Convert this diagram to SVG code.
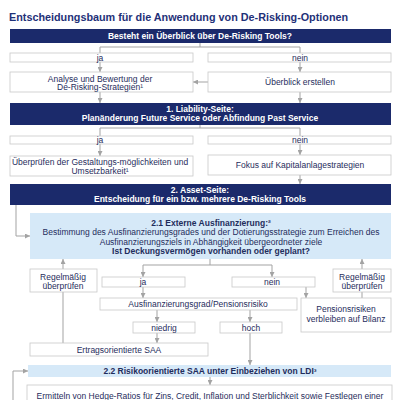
<svg xmlns="http://www.w3.org/2000/svg" width="400" height="400" viewBox="0 0 400 400">
<style>
text{font-family:"Liberation Sans",Arial,sans-serif;font-size:8.5px;fill:#1f2d5c;text-anchor:middle}
.title{font-size:10.8px;font-weight:bold;fill:#1f3178;text-anchor:start}
.bar{fill:#1b2a6b}
.bt{fill:#ffffff;font-weight:bold}
.box{fill:#ffffff;stroke:#c8c8c8;stroke-width:0.8}
.lb{fill:#d6e9f8}
.b{font-weight:bold}
.c{fill:none;stroke:#a3a3a3;stroke-width:1}
</style>
<defs>
<marker id="ah" viewBox="0 0 6 6" refX="6" refY="3" markerWidth="5" markerHeight="5" markerUnits="userSpaceOnUse" orient="auto">
<path d="M0,0 L6,3 L0,6 z" fill="#a3a3a3"/>
</marker>
</defs>
<rect width="400" height="400" fill="#ffffff"/>
<text class="title" x="9" y="21">Entscheidungsbaum für die Anwendung von De-Risking-Optionen</text>

<g id="connectors">
<path class="c" d="M200,43 V47 M100,53 V47 H300 V53"/>
<path class="c" d="M100,62 V72" marker-end="url(#ah)"/>
<path class="c" d="M300,62 V72" marker-end="url(#ah)"/>
<path class="c" d="M208,82 H193" marker-end="url(#ah)"/>
<path class="c" d="M100,92 V103" marker-end="url(#ah)"/>
<path class="c" d="M300,92 V103" marker-end="url(#ah)"/>
<path class="c" d="M200,125 V128 M100,136 V128 H300 V136"/>
<path class="c" d="M100,144 V156" marker-end="url(#ah)"/>
<path class="c" d="M300,144 V155" marker-end="url(#ah)"/>
<path class="c" d="M300,175 V184" marker-end="url(#ah)"/>
<path class="c" d="M16,205 V236 H30" marker-end="url(#ah)"/>
<path class="c" d="M210,259 V265 M143,265 H272"/>
<path class="c" d="M143,265 V277" marker-end="url(#ah)"/>
<path class="c" d="M272,265 V277" marker-end="url(#ah)"/>
<path class="c" d="M63,269 V259" marker-end="url(#ah)"/>
<path class="c" d="M63,343 V292"/>
<path class="c" d="M362,269 V259" marker-end="url(#ah)"/>
<path class="c" d="M362,298 V292"/>
<path class="c" d="M306,287 V298" marker-end="url(#ah)"/>
<path class="c" d="M143,287 V298" marker-end="url(#ah)"/>
<path class="c" d="M157,310 V322" marker-end="url(#ah)"/>
<path class="c" d="M250,310 V322" marker-end="url(#ah)"/>
<path class="c" d="M157,333 V343" marker-end="url(#ah)"/>
<path class="c" d="M250,333 V365" marker-end="url(#ah)"/>
<path class="c" d="M13,400 V371 H28" marker-end="url(#ah)"/>
<path class="c" d="M210,377 V385" marker-end="url(#ah)"/>
</g>

<g id="q1"><rect class="bar" x="10" y="29" width="381" height="14"/><text class="bt" x="200" y="39">Besteht ein Überblick über De-Risking Tools?</text></g>
<g id="ja1"><rect class="box" x="10" y="53" width="183" height="9"/><text x="100" y="60.5">ja</text></g>
<g id="nein1"><rect class="box" x="208" y="53" width="183" height="9"/><text x="300" y="60.5">nein</text></g>
<g id="analyse"><rect class="box" x="10" y="72" width="183" height="20"/><text x="100" y="81.5">Analyse und Bewertung der</text><text x="100" y="90">De-Risking-Strategien¹</text></g>
<g id="ueberblick"><rect class="box" x="208" y="72" width="183" height="20"/><text x="300" y="85">Überblick erstellen</text></g>

<g id="liability"><rect class="bar" x="10" y="103" width="381" height="22"/><text class="bt" x="200" y="111.5">1. Liability-Seite:</text><text class="bt" x="200" y="121">Planänderung Future Service oder Abfindung Past Service</text></g>
<g id="ja2"><rect class="box" x="10" y="136" width="183" height="8"/><text x="100" y="143">ja</text></g>
<g id="nein2"><rect class="box" x="208" y="136" width="183" height="8"/><text x="300" y="143">nein</text></g>
<g id="ueberpruefen"><rect class="box" x="10" y="156" width="183" height="20"/><text x="100" y="164.5">Überprüfen der Gestaltungs-möglichkeiten und</text><text x="100" y="173.5">Umsetzbarkeit¹</text></g>
<g id="fokus"><rect class="box" x="208" y="155" width="183" height="20"/><text x="300" y="168">Fokus auf Kapitalanlagestrategien</text></g>

<g id="asset"><rect class="bar" x="10" y="184" width="381" height="21"/><text class="bt" x="200" y="192.5">2. Asset-Seite:</text><text class="bt" x="200" y="202">Entscheidung für ein bzw. mehrere De-Risking Tools</text></g>

<g id="extern"><rect class="lb" x="30" y="213" width="361" height="46"/>
<text class="b" x="211" y="225.5">2.1 Externe Ausfinanzierung:²</text>
<text x="211" y="235">Bestimmung des Ausfinanzierungsgrades und der Dotierungsstrategie zum Erreichen des</text>
<text x="211" y="244.5">Ausfinanzierungsziels in Abhängigkeit übergeordneter ziele</text>
<text class="b" x="211" y="254">Ist Deckungsvermögen vorhanden oder geplant?</text></g>

<g id="regel1"><rect class="box" x="30" y="269" width="67" height="23"/><text x="63" y="279.5">Regelmäßig</text><text x="63" y="289">überprüfen</text></g>
<g id="regel2"><rect class="box" x="333" y="269" width="58" height="23"/><text x="362" y="279.5">Regelmäßig</text><text x="362" y="289">überprüfen</text></g>
<g id="ja3"><rect class="box" x="102" y="277" width="83" height="10"/><text x="143" y="285">ja</text></g>
<g id="nein3"><rect class="box" x="232" y="277" width="83" height="10"/><text x="272" y="285">nein</text></g>
<g id="grad"><rect class="box" x="100" y="298" width="197" height="12"/><text x="198" y="307">Ausfinanzierungsgrad/Pensionsrisiko</text></g>
<g id="pension"><rect class="box" x="301" y="298" width="90" height="34"/><text x="346" y="312">Pensionsrisiken</text><text x="346" y="322">verbleiben auf Bilanz</text></g>
<g id="niedrig"><rect class="box" x="133" y="322" width="62" height="11"/><text x="164" y="330.5">niedrig</text></g>
<g id="hoch"><rect class="box" x="220" y="322" width="62" height="11"/><text x="251" y="330.5">hoch</text></g>
<g id="ertrag"><rect class="box" x="30" y="343" width="178" height="13"/><text x="119" y="352.5">Ertragsorientierte SAA</text></g>

<g id="risiko"><rect class="lb" x="28" y="365" width="363" height="12"/><text class="b" x="210" y="374">2.2 Risikoorientierte SAA unter Einbeziehen von LDI³</text></g>
<g id="hedge"><rect class="box" x="27" y="385" width="365" height="30"/><text x="210" y="398.5">Ermitteln von Hedge-Ratios für Zins, Credit, Inflation und Sterblichkeit sowie Festlegen einer</text></g>
</svg>
